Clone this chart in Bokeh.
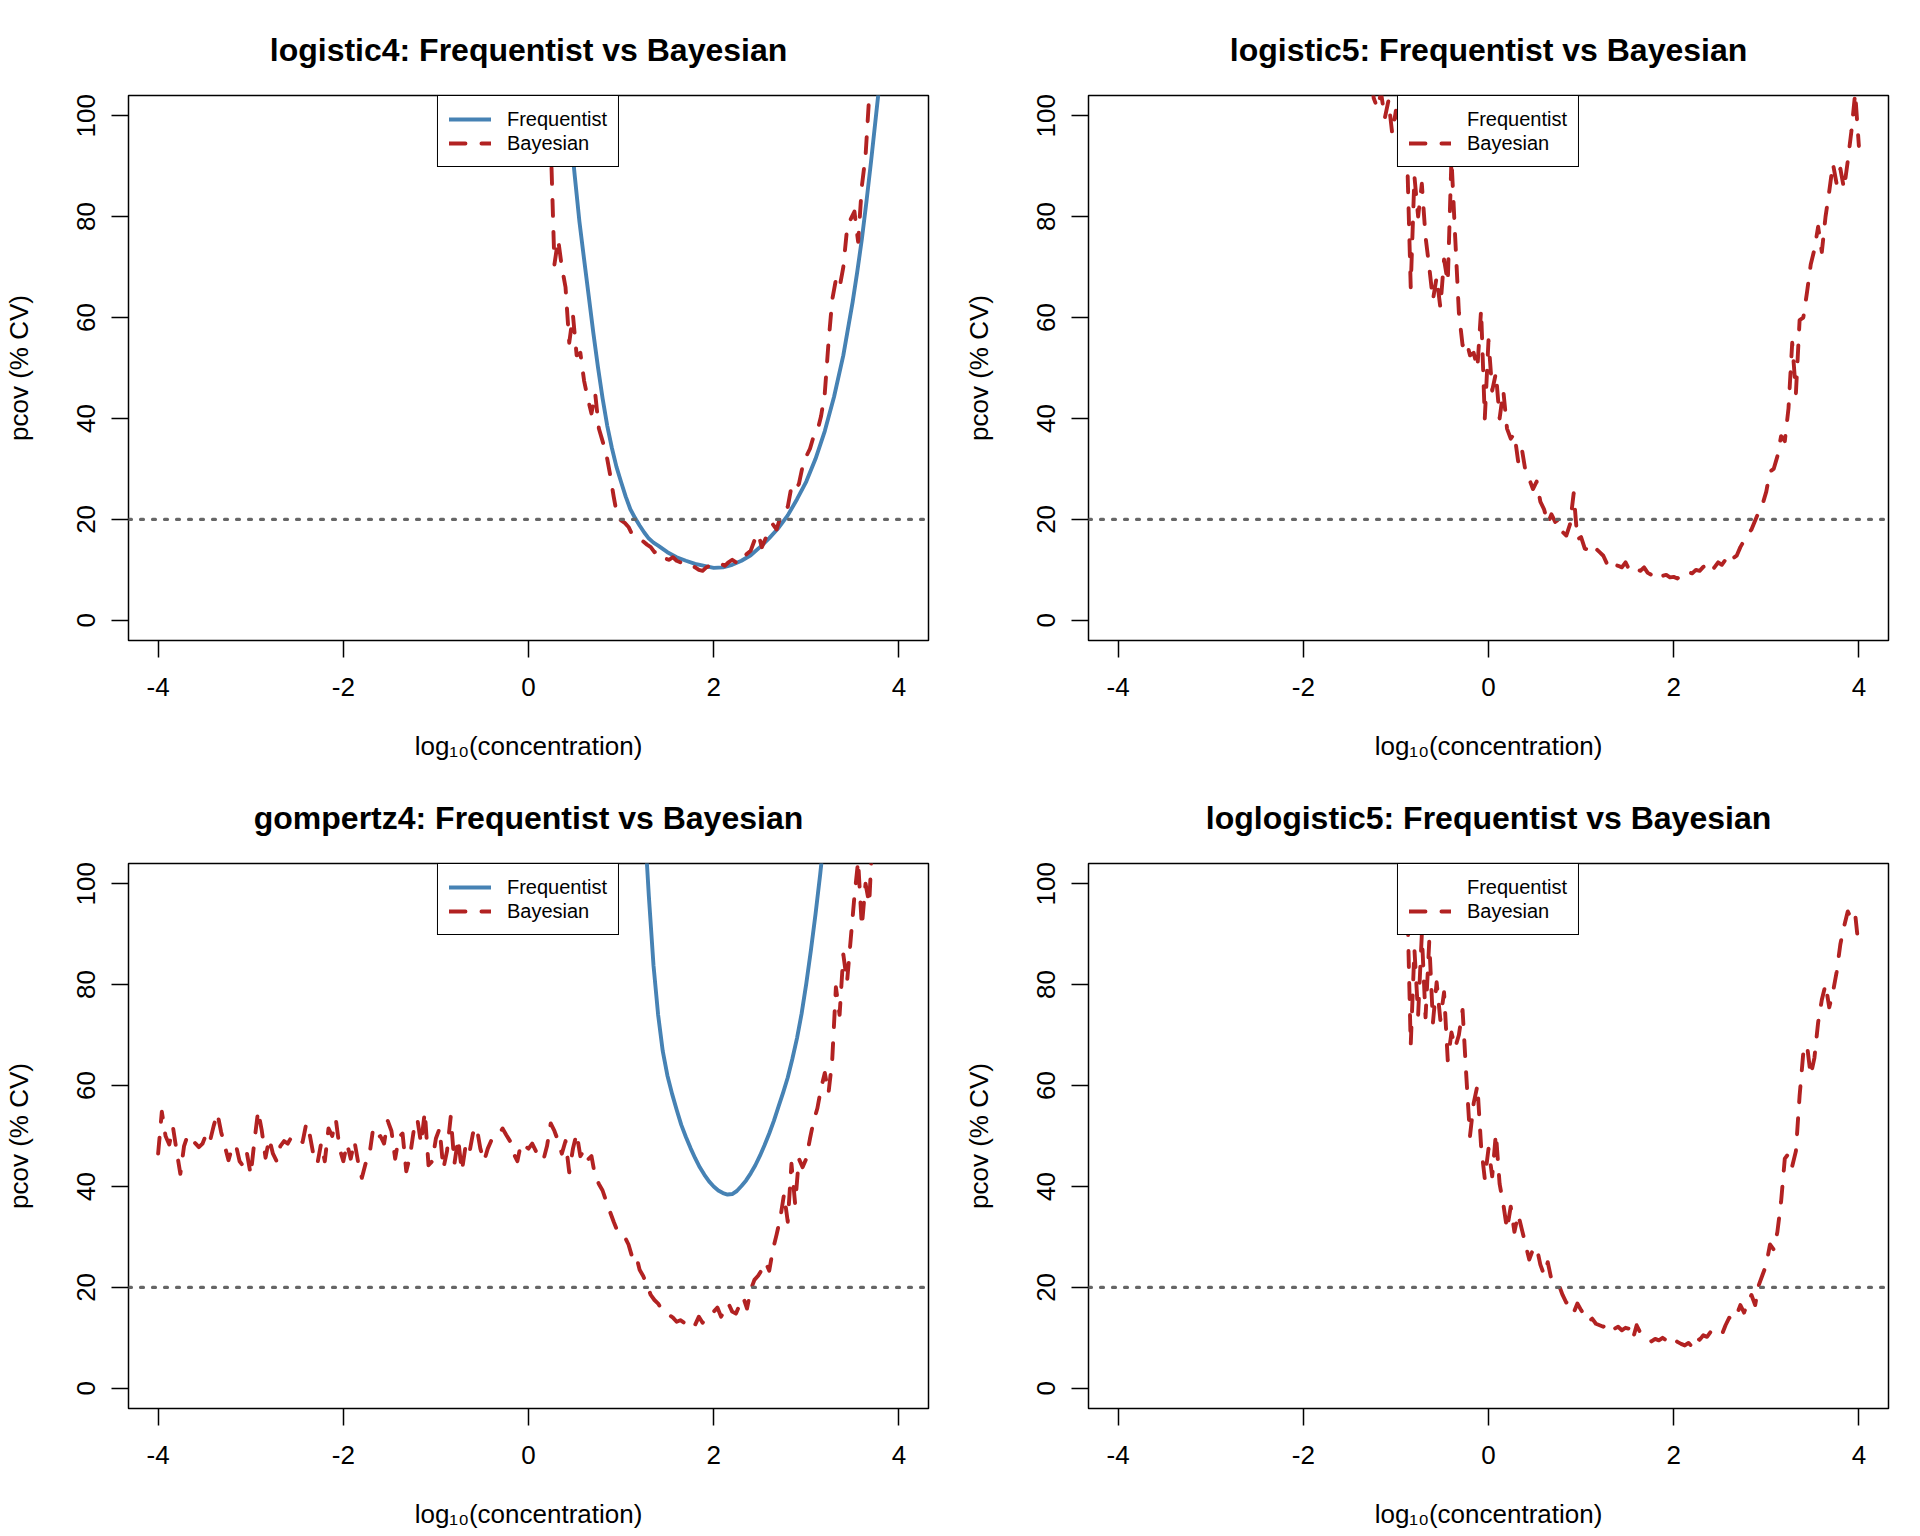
import numpy as np
from bokeh.plotting import figure
from bokeh.layouts import gridplot
from bokeh.models import Range1d, FixedTicker, Span, Legend, LegendItem
from bokeh.embed import file_html
from bokeh.resources import INLINE

# log10(concentration) grid shared by the Bayesian profiles
conc_grid = np.round(np.linspace(-4, 4, 201), 2)

x_ticks = [-4, -2, 0, 2, 4]
y_ticks = [0, 20, 40, 60, 80, 100]
pcov_limit = 20

# ---- logistic4 ----
freq_logistic4_x = [0.40, 0.45, 0.50, 0.55, 0.60, 0.65, 0.70, 0.75, 0.80, 0.85, 0.90, 0.95,
                    1.0, 1.05, 1.1, 1.15, 1.2, 1.25, 1.3, 1.35, 1.4, 1.5, 1.6, 1.7, 1.8, 1.9,
                    2.0, 2.1, 2.2, 2.3, 2.4, 2.5, 2.6, 2.7, 2.8, 2.9, 3.0, 3.1, 3.2, 3.3,
                    3.4, 3.5, 3.55, 3.6, 3.65, 3.7, 3.75, 3.8]
freq_logistic4_y = [107, 97.5, 88, 79, 71.6, 64.3, 57, 50.2, 44, 38.6, 34.2, 30.4,
                    27.4, 24.5, 22.0, 20.3, 18.8, 17.4, 16.2, 15.4, 14.8, 13.5, 12.5, 11.8, 11.2, 10.8,
                    10.4, 10.5, 11.0, 11.8, 12.9, 14.5, 16.3, 18.3, 20.8, 24.0, 27.5, 32.0, 37.5, 44.3,
                    52.5, 63.0, 69.0, 75.5, 83.0, 91.0, 99.5, 108]
bayes_logistic4_start = 0.20
bayes_logistic4_y = [115, 95, 70.5, 75.5, 70.0, 66.0, 55.0, 60.5, 52.5, 53.0,
                     47.5, 44.0, 41.0, 45.0, 38.0, 35.5, 33.0, 29.0, 24.5, 20.5,
                     19.8, 19.3, 18.5, 17.0, 16.5, 16.0, 15.6, 15.0, 14.5, 13.5,
                     13.8, 13.2, 12.2, 12.0, 12.5, 11.8, 11.5, 11.0, 11.2, 10.8,
                     10.5, 10.0, 9.8, 10.5, 10.8, 10.6, 11.0, 11.2, 10.8, 11.5,
                     12.0, 11.5, 12.8, 12.5, 13.2, 13.8, 15.8, 17.2, 14.5, 16.2,
                     17.5, 19.0, 18.0, 20.5, 22.0, 22.5, 26.5, 25.8, 27.0, 30.5,
                     32.5, 34.0, 36.5, 37.5, 40.5, 45.0, 55.0, 63.5, 67.5, 66.0,
                     70.0, 77.5, 79.5, 81.0, 75.0, 86.0, 92.0, 104.0, 115.0]

# ---- logistic5 (frequentist fit not shown) ----
freq_logistic5_x = []
freq_logistic5_y = []
bayes_logistic5_start = -1.28
bayes_logistic5_y = [112, 103.5, 101.5, 104.5, 99.5, 103.0, 96.5, 101.0, 97.0, 99.0,
                     93.0, 66.0, 88.0, 80.0, 86.5, 76.0, 70.0, 63.5, 68.0, 62.0,
                     71.5, 67.0, 91.5, 76.0, 61.0, 54.5, 55.5, 52.5, 53.0, 50.0,
                     61.5, 40.0, 55.5, 45.5, 49.0, 40.0, 45.5, 38.0, 36.0, 37.0,
                     31.5, 34.0, 29.5, 28.0, 26.0, 27.5, 23.5, 22.0, 19.2, 21.0,
                     19.5, 20.0, 17.5, 16.8, 19.0, 25.2, 16.0, 16.5, 14.2, 14.0,
                     15.0, 14.2, 13.5, 12.8, 11.2, 10.2, 11.0, 10.8, 10.5, 11.5,
                     10.0, 9.6, 10.2, 9.8, 10.5, 9.4, 9.0, 9.8, 9.2, 8.8,
                     9.0, 8.5, 8.6, 8.3, 9.0, 8.8, 9.5, 9.3, 10.0, 9.8,
                     10.6, 10.8, 9.6, 10.5, 11.5, 11.0, 12.0, 13.2, 12.3, 12.8,
                     14.5, 15.8, 17.0, 18.0, 19.8, 21.5, 23.0, 25.5, 29.5, 30.0,
                     32.5, 36.5, 35.5, 42.0, 55.0, 45.0, 59.5, 60.0, 65.0, 70.5,
                     73.5, 78.0, 73.0, 80.0, 85.0, 90.5, 86.5, 89.5, 85.5, 91.0,
                     97.0, 104.5, 94.0]

# ---- gompertz4 ----
freq_gompertz4_x = [1.25, 1.30, 1.35, 1.40, 1.45, 1.50, 1.55, 1.60, 1.65, 1.70, 1.75, 1.80,
                    1.85, 1.90, 1.95, 2.00, 2.05, 2.10, 2.15, 2.20, 2.25, 2.30, 2.35, 2.40,
                    2.45, 2.50, 2.55, 2.60, 2.65, 2.70, 2.75, 2.80, 2.85, 2.90, 2.95, 3.00,
                    3.05, 3.10, 3.15, 3.20]
freq_gompertz4_y = [113, 97.5, 83.8, 74.0, 66.8, 62.0, 58.4, 55.2, 52.2, 49.8, 47.6, 45.6,
                    43.8, 42.3, 41.0, 40.0, 39.2, 38.7, 38.4, 38.5, 39.1, 40.1, 41.2, 42.6,
                    44.2, 46.1, 48.2, 50.5, 53.0, 55.8, 58.6, 61.6, 65.3, 69.4, 74.3, 80.2,
                    86.8, 94.0, 101.8, 110.5]
bayes_gompertz4_start = -4.0
bayes_gompertz4_y = [46.5, 54.8, 50.0, 48.3, 51.8, 47.0, 42.5, 48.0, 50.2, 49.5,
                     48.6, 47.8, 48.5, 50.4, 49.0, 52.0, 54.5, 50.8, 48.0, 45.2,
                     47.8, 48.2, 45.0, 44.0, 46.5, 42.3, 49.0, 55.0, 51.0, 45.7,
                     49.5, 46.5, 45.0, 48.0, 49.0, 48.5, 49.8, 50.0, 49.5, 48.8,
                     52.5, 50.0, 46.0, 44.5, 48.5, 45.0, 51.5, 50.0, 53.2, 47.5,
                     45.0, 48.5, 45.5, 49.0, 44.8, 41.7, 44.5, 46.0, 51.2, 49.5,
                     50.0, 48.5, 53.0, 51.0, 45.5, 49.8, 50.5, 43.0, 46.0, 51.0,
                     53.3, 48.5, 54.8, 44.2, 45.0, 49.5, 51.5, 43.5, 47.0, 53.8,
                     44.5, 49.5, 43.0, 48.0, 46.5, 50.5, 51.8, 47.5, 45.0, 47.5,
                     49.2, 49.5, 50.3, 51.5, 50.2, 49.0, 46.5, 45.0, 48.6, 48.0,
                     47.5, 48.5, 47.0, 46.5, 45.2, 48.0, 52.5, 51.0, 49.0, 46.5,
                     49.0, 42.8, 47.5, 50.5, 46.0, 47.2, 45.3, 46.0, 42.0, 40.5,
                     39.2, 37.0, 35.0, 33.0, 31.2, 30.5, 30.0, 28.5, 26.0, 26.5,
                     23.5, 22.2, 20.5, 18.5, 17.5, 16.8, 15.6, 15.0, 14.5, 14.0,
                     13.2, 13.5, 13.0, 13.8, 13.2, 12.6, 14.2, 13.0, 13.8, 14.5,
                     15.2, 16.0, 14.2, 15.5, 16.8, 15.2, 14.8, 16.5, 18.0, 15.8,
                     19.5, 21.5, 22.3, 23.5, 25.0, 23.3, 27.5, 30.5, 33.8, 38.5,
                     33.0, 44.5, 36.5, 45.5, 43.8, 45.5, 49.5, 53.0, 55.5, 59.5,
                     62.5, 58.5, 65.0, 79.5, 74.0, 86.0, 80.5, 89.0, 97.5, 104.5,
                     91.5, 100.0, 96.0, 112.0]

# ---- loglogistic5 (frequentist fit not shown) ----
freq_loglogistic5_x = []
freq_loglogistic5_y = []
bayes_loglogistic5_start = -0.92
bayes_loglogistic5_y = [112, 99.0, 68.0, 87.0, 74.0, 90.0, 73.5, 88.5, 72.5, 80.5,
                        73.0, 78.5, 65.0, 70.5, 67.5, 70.0, 75.0, 62.0, 50.0, 56.5,
                        60.0, 48.0, 41.5, 47.5, 42.0, 50.5, 40.5, 36.5, 31.5, 36.0,
                        31.0, 34.5, 31.5, 28.5, 25.5, 27.5, 28.0, 24.5, 22.5, 25.0,
                        21.5, 20.8, 20.5, 18.5, 17.0, 16.8, 15.0, 16.8, 15.5, 14.5,
                        13.2, 13.8, 12.8, 12.5, 12.2, 13.0, 12.0, 11.8, 12.2, 11.5,
                        12.0, 11.8, 9.8, 12.5, 11.0, 10.6, 10.0, 9.3, 9.8, 9.5,
                        10.0, 9.5, 9.0, 9.8, 9.2, 8.8, 8.5, 9.0, 8.2, 10.0,
                        9.6, 10.5, 10.2, 11.2, 10.8, 11.0, 10.6, 12.5, 14.0, 13.5,
                        14.5, 16.5, 15.0, 17.0, 18.5, 16.5, 20.5, 22.5, 24.5, 28.5,
                        27.5, 31.0, 37.0, 45.5, 46.5, 44.0, 47.0, 58.0, 66.5, 68.0,
                        62.0, 65.5, 72.5, 77.0, 80.0, 75.5, 78.5, 82.5, 88.0, 91.5,
                        94.5, 93.0, 94.0, 87.0]

FONT = "Liberation Sans"
FREQ_COLOR = "#4682B4"
BAYES_COLOR = "#B22222"


def bayes_xy(start, values):
    i0 = int(np.argmin(np.abs(conc_grid - start)))
    return conc_grid[i0:i0 + len(values)], values


def make_panel(model, fx, fy, b_start, b_vals):
    p = figure(width=960, height=768,
               x_range=Range1d(-4.32, 4.32), y_range=Range1d(-4, 104),
               min_border_left=128, min_border_right=32,
               min_border_top=95, min_border_bottom=128,
               output_backend="svg", toolbar_location=None)
    p.title.text = f"{model}: Frequentist vs Bayesian"
    p.title.align = "center"
    p.title.text_font = FONT
    p.title.text_font_size = "32px"
    p.title.text_font_style = "bold"
    p.title.text_color = "black"
    p.title.standoff = 56

    p.xgrid.visible = False
    p.ygrid.visible = False
    p.outline_line_color = "black"
    p.outline_line_width = 1.5
    p.outline_line_alpha = 1.0
    p.background_fill_color = "white"
    p.border_fill_color = "white"

    p.xaxis.ticker = FixedTicker(ticks=x_ticks)
    p.yaxis.ticker = FixedTicker(ticks=y_ticks)
    p.xaxis.major_label_overrides = {t: str(t) for t in x_ticks}
    p.xaxis.axis_label = "log\u2081\u2080(concentration)"
    p.yaxis.axis_label = "pcov (% CV)"
    for ax in (p.xaxis[0], p.yaxis[0]):
        ax.axis_line_color = None
        ax.major_tick_line_color = "black"
        ax.major_tick_line_width = 1.5
        ax.major_tick_out = 17
        ax.major_tick_in = 0
        ax.minor_tick_line_color = None
        ax.major_label_text_font = FONT
        ax.major_label_text_font_size = "26px"
        ax.major_label_text_color = "black"
        ax.axis_label_text_font = FONT
        ax.axis_label_text_font_size = "26px"
        ax.axis_label_text_font_style = "normal"
        ax.axis_label_text_color = "black"
    p.xaxis.major_label_standoff = 20
    p.xaxis.axis_label_standoff = 32
    p.yaxis.major_label_standoff = 16
    p.yaxis.axis_label_standoff = 41
    p.yaxis.major_label_orientation = "vertical"

    r_freq = p.line(fx, fy, line_color=FREQ_COLOR, line_width=3.9,
                    line_join="round", line_cap="round")
    bx, by = bayes_xy(b_start, b_vals)
    r_bayes = p.line(bx, by, line_color=BAYES_COLOR, line_width=3.9,
                     line_dash="16 16", line_join="round", line_cap="round")

    p.add_layout(Span(location=pcov_limit, dimension="width", line_color="#666666",
                      line_width=3.1, line_dash="3 9", line_cap="round"))

    legend = Legend(items=[LegendItem(label="Frequentist", renderers=[r_freq]),
                           LegendItem(label="Bayesian", renderers=[r_bayes])],
                    location="top_center", margin=0, padding=11, spacing=0,
                    glyph_width=42, glyph_height=24, label_height=24,
                    label_standoff=16, label_text_font=FONT,
                    label_text_font_size="20px", label_text_color="black",
                    border_line_color="black", border_line_width=1.5,
                    border_line_alpha=1.0, background_fill_color="white",
                    background_fill_alpha=1.0)
    p.add_layout(legend)
    return p


p1 = make_panel("logistic4", freq_logistic4_x, freq_logistic4_y,
                bayes_logistic4_start, bayes_logistic4_y)
p2 = make_panel("logistic5", freq_logistic5_x, freq_logistic5_y,
                bayes_logistic5_start, bayes_logistic5_y)
p3 = make_panel("gompertz4", freq_gompertz4_x, freq_gompertz4_y,
                bayes_gompertz4_start, bayes_gompertz4_y)
p4 = make_panel("loglogistic5", freq_loglogistic5_x, freq_loglogistic5_y,
                bayes_loglogistic5_start, bayes_loglogistic5_y)

grid = gridplot([[p1, p2], [p3, p4]], toolbar_location=None)

with open("out.html", "w") as f:
    f.write(file_html(grid, INLINE))
